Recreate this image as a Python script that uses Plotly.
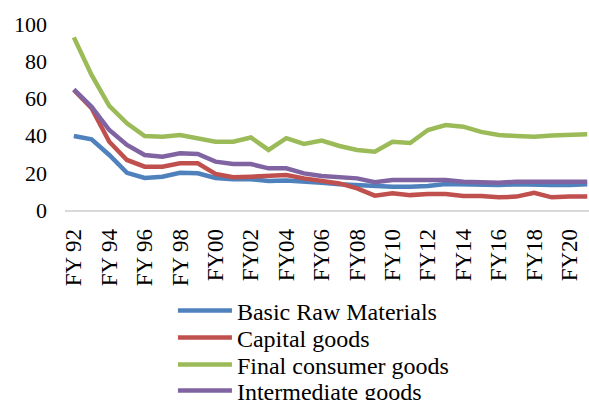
import plotly.graph_objects as go

categories = ["FY 92", "FY 93", "FY 94", "FY 95", "FY 96", "FY 97", "FY 98", "FY 99",
              "FY00", "FY01", "FY02", "FY03", "FY04", "FY05", "FY06", "FY07", "FY08",
              "FY09", "FY10", "FY11", "FY12", "FY13", "FY14", "FY15", "FY16", "FY17",
              "FY18", "FY19", "FY20", "FY21"]

basic_raw = [39.8, 38.0, 29.6, 20.0, 17.2, 17.9, 20.0, 19.7, 17.2, 16.5, 16.5, 15.6, 15.8,
             15.5, 14.7, 13.8, 13.4, 12.5, 12.5, 12.5, 12.9, 14.0, 13.8, 13.4, 13.4, 13.8,
             13.4, 13.4, 13.4, 13.8]
capital = [64.5, 54.7, 36.7, 26.9, 23.3, 23.3, 25.1, 25.1, 19.4, 17.6, 17.9, 18.3, 18.8,
           17.0, 15.8, 14.3, 11.6, 7.7, 9.0, 8.0, 8.6, 8.6, 7.5, 7.5, 6.8, 7.2, 9.3, 6.8,
           7.2, 7.2]
final_consumer = [92.8, 72.6, 56.0, 46.6, 39.8, 39.4, 40.3, 38.5, 36.7, 36.7, 39.0, 32.3,
                  38.6, 35.5, 37.3, 34.4, 32.3, 31.3, 36.7, 36.0, 43.0, 45.7, 44.8, 42.0,
                  40.3, 39.8, 39.4, 40.0, 40.3, 40.7]
intermediate = [64.9, 55.5, 43.0, 35.0, 29.6, 28.7, 30.5, 30.1, 26.0, 24.7, 24.7, 22.4,
                22.4, 19.7, 18.3, 17.4, 17.0, 14.9, 16.1, 16.1, 16.1, 16.1, 15.2, 14.9,
                14.7, 15.2, 15.0, 15.0, 15.2, 15.2]

series_names = ["Basic Raw Materials", "Capital goods", "Final consumer goods", "Intermediate goods"]
series_values = [basic_raw, capital, final_consumer, intermediate]
colors = ["#4F81BD", "#C0504D", "#9BBB59", "#8064A2"]

tick_labels = categories[::2]
y_ticks = [0, 20, 40, 60, 80, 100]

FAM = "Liberation Serif, Times New Roman, serif"
legend_ids = ["legend", "legend2", "legend3", "legend4"]
legend_y = [-0.543, -0.688, -0.833, -0.973]

fig = go.Figure()
for name, vals, col, lid in zip(series_names, series_values, colors, legend_ids):
    fig.add_trace(go.Scatter(x=categories, y=vals, name=name, mode="lines",
                             line=dict(color=col, width=4.5), legend=lid))

legend_style = dict(orientation="v", x=0.206, xanchor="left", yanchor="middle",
                    font=dict(family=FAM, size=24, color="black"), itemwidth=54,
                    bgcolor="rgba(0,0,0,0)", borderwidth=0)

layout_legends = {}
for lid, ly in zip(legend_ids, legend_y):
    layout_legends[lid] = dict(legend_style, y=ly)

fig.update_layout(
    width=589, height=400,
    margin=dict(l=65, r=0, t=24, b=190, autoexpand=False),
    paper_bgcolor="white", plot_bgcolor="white",
    font=dict(family=FAM, size=22, color="black"),
    showlegend=True,
    xaxis=dict(type="category", categoryorder="array", categoryarray=categories,
               range=[-0.5, 29.1], tickvals=tick_labels, ticktext=tick_labels,
               tickangle=-90, showgrid=False, showline=True, linecolor="#D9D9D9",
               linewidth=1.5, ticks="", zeroline=False, automargin=False,
               ticklabelstandoff=8,
               tickfont=dict(family=FAM, size=23, color="black")),
    yaxis=dict(range=[0, 100], tickvals=y_ticks, showgrid=False, showline=False,
               zeroline=False, ticks="", ticklabelstandoff=17, automargin=False,
               tickfont=dict(family=FAM, size=22, color="black")),
    **layout_legends,
)

fig.write_html("out.html", config={"displayModeBar": False},
               post_script="document.body.style.margin='0';document.body.style.overflow='hidden';")
